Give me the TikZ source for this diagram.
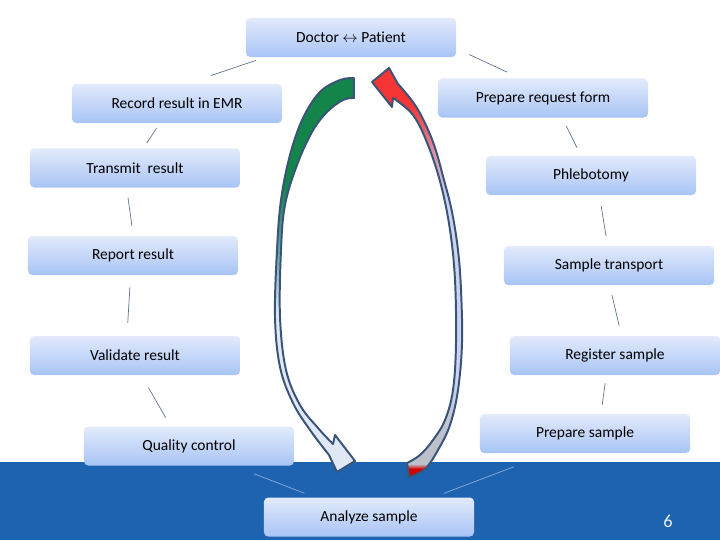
\documentclass[tikz,border=0pt]{standalone}
\usepackage{fontspec}
\setmainfont{Carlito}[Ligatures=NoCommon]

\definecolor{boxtop}{RGB}{226,234,251}
\definecolor{boxbot}{RGB}{168,196,245}
\definecolor{bandblue}{RGB}{30,99,175}
\definecolor{linkgray}{RGB}{95,115,140}
\definecolor{linklight}{RGB}{140,172,218}
\definecolor{arrblue}{RGB}{58,84,120}
\definecolor{arrgreen}{RGB}{20,133,74}
\definecolor{arrteal}{RGB}{105,165,175}
\definecolor{arrpale}{RGB}{224,232,246}
\definecolor{arrred}{RGB}{245,52,52}
\definecolor{arrpink}{RGB}{222,140,160}
\definecolor{arrsky}{RGB}{202,212,240}
\definecolor{arrgray}{RGB}{188,192,202}
\definecolor{tailred}{RGB}{212,0,0}
\definecolor{numcol}{RGB}{232,240,250}

\pgfdeclareverticalshading{greenfade}{100bp}{color(0bp)=(arrpale); color(45bp)=(arrpale); color(53bp)=(arrteal); color(61bp)=(arrgreen); color(100bp)=(arrgreen)}
\pgfdeclareverticalshading{redfade}{100bp}{color(0bp)=(tailred); color(26bp)=(tailred); color(26.6bp)=(arrgray); color(30bp)=(arrgray); color(37bp)=(arrsky); color(59bp)=(arrsky); color(65bp)=(arrpink); color(70.5bp)=(arrred); color(100bp)=(arrred)}

\tikzset{
	box/.style={rectangle, rounded corners=3pt, minimum width=5.25cm, minimum height=0.975cm, inner sep=0pt, top color=boxtop, bottom color=boxbot, font=\fontsize{11}{13}\selectfont},
	link/.style={draw=linkgray, line width=0.5pt},
	linkband/.style={draw=linklight, line width=0.5pt},
	gap/.style 2 args={shorten <=#1*0.7113pt, shorten >=#2*0.7113pt},
	arrline/.style={draw=arrblue, line width=1.4pt, line join=round}
}

\begin{document}
\begin{tikzpicture}[x=0.025cm, y=-0.025cm]
	\useasboundingbox (0,0) rectangle (720,540);
	\fill [bandblue] (0,462) rectangle (720,540);

	\shadedraw [arrline, shading=greenfade] plot[smooth, tension=0.6] coordinates {(354,78) (340,80) (320,92) (303,118) (290,155) (281,200) (277,250) (275,317) (280,367) (293,403) (310,430) (329,455)} -- (337,472) -- (355,461) -- (335,435) -- plot[smooth, tension=0.6] coordinates {(333,444) (318,428) (300,405) (286,370) (280,317) (281,250) (285,205) (297,165) (312,132) (327,112) (343,100) (354,98)} -- cycle;
	\shadedraw [arrline, shading=redfade] plot[smooth, tension=0.6] coordinates {(409,477) (425,469) (438,450) (450,425) (458,390) (462,343) (461,290) (458,250) (452,212) (444,180) (433,142) (417,108) (398,84)} -- (389,68) -- (372,82) -- (392,107) -- plot[smooth, tension=0.6] coordinates {(393,98) (413,115) (428,145) (441,185) (450,230) (455,280) (456,343) (453,390) (445,420) (433,440) (420,455) (407,463)} -- cycle;

	\node at (351,37.5) [box] (doc) {Doctor $\leftrightarrow$ Patient};
	\node at (177,103.5) [box] (rec) {Record result in EMR};
	\node at (543,98) [box] (req) {Prepare request form};
	\node at (135,168) [box] (trans) {Transmit\ \ result};
	\node at (591,175.5) [box] (phleb) {Phlebotomy};
	\node at (133,255.5) [box] (rep) {Report result};
	\node at (609,265.5) [box] (trp) {Sample transport};
	\node at (135,355.5) [box] (val) {Validate result};
	\node at (615,355.5) [box] (reg) {Register sample};
	\node at (189,446) [box] (qc) {Quality control};
	\node at (585,433.5) [box] (prep) {Prepare sample};
	\node at (369,517) [box] (ana) {Analyze sample};
	\node at (668,521) [text=numcol, font=\fontsize{13}{15}\selectfont] (pg) {6};

	\draw [link, gap={9.7}{25.7}] (doc.193) -- (rec.64);
	\draw [link, gap={14.2}{14.7}] (doc.354) -- (req.139);
	\draw [link, gap={6}{6}] (rec.229) -- (trans.67);
	\draw [link, gap={9}{9}] (req.314) -- (phleb.117);
	\draw [link, gap={10}{10}] (trans.247) -- (rep.89);
	\draw [link, gap={11}{10}] (phleb.293) -- (trp.94);
	\draw [link, gap={12}{13}] (rep.263) -- (val.112);
	\draw [link, gap={10}{10}] (trp.272) -- (reg.72);
	\draw [link, gap={14}{10}] (val.288) -- (qc.133);
	\draw [link, gap={8}{9}] (reg.246) -- (prep.51);
	\draw [linkband, gap={22}{11}] (qc.336) -- (ana.160);
	\draw [linkband, gap={38}{11}] (prep.209) -- (ana.17);
\end{tikzpicture}
\end{document}
